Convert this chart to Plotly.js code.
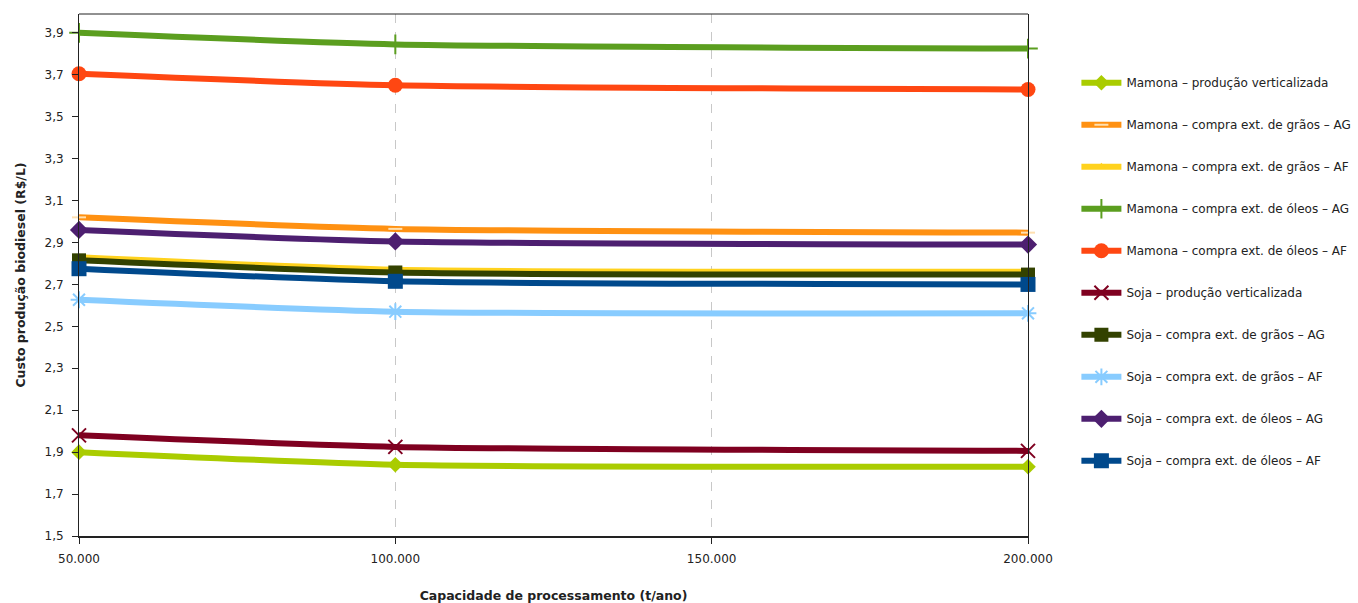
<!DOCTYPE html>
<html><head><meta charset="utf-8">
<script src="https://cdn.plot.ly/plotly-3.0.1.min.js"></script>
<style>body{margin:0;background:#fff}#chart{width:1358px;height:603px}</style>
</head><body><div id="chart"></div>
<script>
const capacities = [50000, 100000, 200000];
const seriesNames = [
  "Mamona – produção verticalizada",
  "Mamona – compra ext. de grãos – AG",
  "Mamona – compra ext. de grãos – AF",
  "Mamona – compra ext. de óleos – AG",
  "Mamona – compra ext. de óleos – AF",
  "Soja – produção verticalizada",
  "Soja – compra ext. de grãos – AG",
  "Soja – compra ext. de grãos – AF",
  "Soja – compra ext. de óleos – AG",
  "Soja – compra ext. de óleos – AF"
];
const mamonaVert = [1.90, 1.84, 1.83];
const mamonaGraosAG = [3.02, 2.965, 2.947];
const mamonaGraosAF = [2.83, 2.77, 2.76];
const mamonaOleosAG = [3.90, 3.845, 3.825];
const mamonaOleosAF = [3.705, 3.65, 3.63];
const sojaVert = [1.98, 1.925, 1.906];
const sojaGraosAG = [2.815, 2.757, 2.747];
const sojaGraosAF = [2.627, 2.57, 2.562];
const sojaOleosAG = [2.96, 2.905, 2.89];
const sojaOleosAF = [2.775, 2.715, 2.70];
const yTickVals = [1.5, 1.7, 1.9, 2.1, 2.3, 2.5, 2.7, 2.9, 3.1, 3.3, 3.5, 3.7, 3.9];
const xTickVals = [50000, 100000, 150000, 200000];

const values = [mamonaVert, mamonaGraosAG, mamonaGraosAF, mamonaOleosAG, mamonaOleosAF,
                sojaVert, sojaGraosAG, sojaGraosAF, sojaOleosAG, sojaOleosAF];
const styles = [
  {color:"#AACC00", symbol:"diamond", size:12, lw:0},
  {color:"#FF9112", symbol:"line-ew", size:10, lw:2, mlc:"#FFE0B0"},
  {color:"#FFD21E", symbol:"triangle-up", size:8, lw:0},
  {color:"#5B9E1F", symbol:"cross-thin", size:14, lw:2, mlc:"#5B9E1F"},
  {color:"#FF4712", symbol:"circle", size:15, lw:0},
  {color:"#7F0020", symbol:"x-thin", size:14, lw:2, mlc:"#7F0020"},
  {color:"#334200", symbol:"square", size:14, lw:0},
  {color:"#88CCFF", symbol:"asterisk", size:14, lw:2, mlc:"#88CCFF"},
  {color:"#4D1F70", symbol:"diamond", size:14, lw:0},
  {color:"#00498C", symbol:"square", size:15, lw:0}
];
const order = [2, 6, 9, 7, 8, 1, 5, 0, 4, 3];
const traces = [];
order.forEach(i => {
  const s = styles[i];
  traces.push({
    x: capacities, y: values[i], name: seriesNames[i],
    type: "scatter", mode: "lines+markers", cliponaxis: false,
    line: {color: s.color, width: 6, shape: "spline", smoothing: 0.6},
    marker: {color: s.color, symbol: s.symbol, size: s.size,
             line: {width: s.lw, color: s.mlc || s.color}},
    legendgroup: "g" + i, legendrank: i + 1
  });
});

const layout = {
  width: 1358, height: 603,
  margin: {l: 79, r: 330, t: 14, b: 67, autoexpand: false},
  paper_bgcolor: "#fff", plot_bgcolor: "#fff",
  separators: ",.",
  font: {family: "DejaVu Sans, Liberation Sans, sans-serif", size: 12, color: "#222"},
  showlegend: true,
  legend: {x: 1.051, y: 0.896, xanchor: "left", yanchor: "top",
           traceorder: "grouped", tracegroupgap: 23,
           font: {size: 12, color: "#222"}, itemwidth: 40, bgcolor: "rgba(0,0,0,0)"},
  xaxis: {
    range: [50000, 200000], tickvals: xTickVals, tickformat: ",d",
    ticks: "outside", ticklen: 6, tickcolor: "#222", ticklabelstandoff: 5,
    showline: true, linecolor: "#222", linewidth: 2,
    showgrid: true, gridcolor: "#C8C8C8", griddash: "dash", gridwidth: 1,
    zeroline: false, tickfont: {size: 12},
    title: {text: "<b>Capacidade de processamento (t/ano)</b>", font: {size: 12.5}, standoff: 28}
  },
  yaxis: {
    range: [1.5, 3.99], tickvals: yTickVals, tickformat: ".1f",
    ticks: "outside", ticklen: 6, tickcolor: "#222", ticklabelstandoff: 6,
    showline: true, linecolor: "#222", linewidth: 1, mirror: true,
    showgrid: false, zeroline: false, tickfont: {size: 12},
    title: {text: "<b>Custo produção biodiesel (R$/L)</b>", font: {size: 12.5}, standoff: 16}
  },
  shapes: [{type: "line", xref: "paper", yref: "paper", x0: 0, x1: 1, y0: 1, y1: 1,
            line: {color: "#222", width: 1}}]
};
Plotly.newPlot("chart", traces, layout, {displayModeBar: false, staticPlot: true});
</script></body></html>
